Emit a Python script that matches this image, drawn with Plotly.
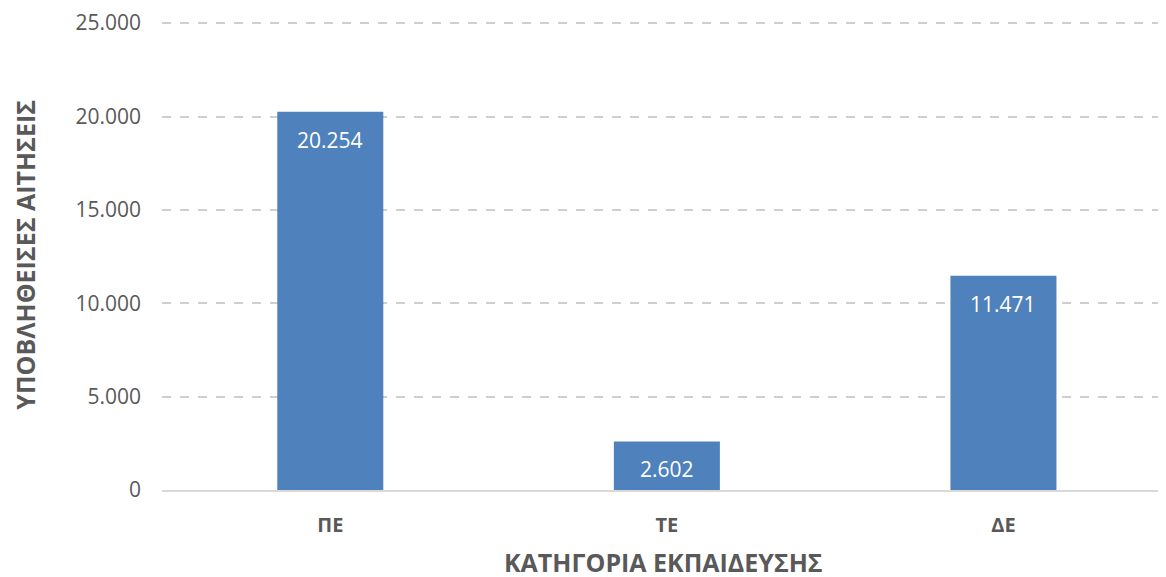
import plotly.graph_objects as go

categories = ["ΠΕ", "ΤΕ", "ΔΕ"]
values = [20254, 2602, 11471]
y_ticks = [0, 5000, 10000, 15000, 20000, 25000]

TXT = "#595959"
FONT = "Open Sans"

fig = go.Figure()
fig.add_trace(go.Bar(
    x=categories, y=values,
    marker=dict(color="#4f81bd", line=dict(width=0)),
    hoverinfo="skip",
))

annotations = [
    dict(x=c, y=v, xref="x", yref="y", text=f"{v:,}".replace(",", "."),
         showarrow=False, yanchor="top", yshift=-12,
         font=dict(family=FONT, size=21, color="white"))
    for c, v in zip(categories, values)
]
annotations += [
    dict(text="<b>ΥΠΟΒΛΗΘΕΙΣΕΣ ΑΙΤΗΣΕΙΣ</b>", textangle=-90,
         xref="paper", yref="paper", x=-0.137, y=0.502,
         xanchor="center", yanchor="middle", showarrow=False,
         font=dict(family=FONT, size=25, color=TXT)),
    dict(text="<b>ΚΑΤΗΓΟΡΙΑ ΕΚΠΑΙΔΕΥΣΗΣ</b>",
         xref="paper", yref="paper", x=0.5, y=-0.154,
         xanchor="center", yanchor="middle", showarrow=False,
         font=dict(family=FONT, size=25, color=TXT)),
]

fig.update_layout(
    width=1166, height=577,
    margin=dict(l=154, r=9, t=14, b=95),
    paper_bgcolor="white", plot_bgcolor="white",
    separators=",.",
    bargap=0.685,
    showlegend=False,
    font=dict(family=FONT, color=TXT),
    xaxis=dict(
        range=[-0.5, 2.48], automargin=False,
        showgrid=False, zeroline=False,
        showline=True, linecolor="#d9d9d9", linewidth=1.5,
        ticks="", ticklabelstandoff=16,
        tickfont=dict(family=FONT, size=20, color=TXT, weight="bold"),
    ),
    yaxis=dict(
        range=[0, 25060], automargin=False,
        tickvals=y_ticks, tickformat=",d",
        showgrid=True, gridcolor="#cfcfcf", griddash="dash", gridwidth=1.5,
        zeroline=False, showline=False,
        ticks="", ticklabelstandoff=20,
        tickfont=dict(family=FONT, size=21, color=TXT),
    ),
    annotations=annotations,
)

fig.write_html("out.html")
